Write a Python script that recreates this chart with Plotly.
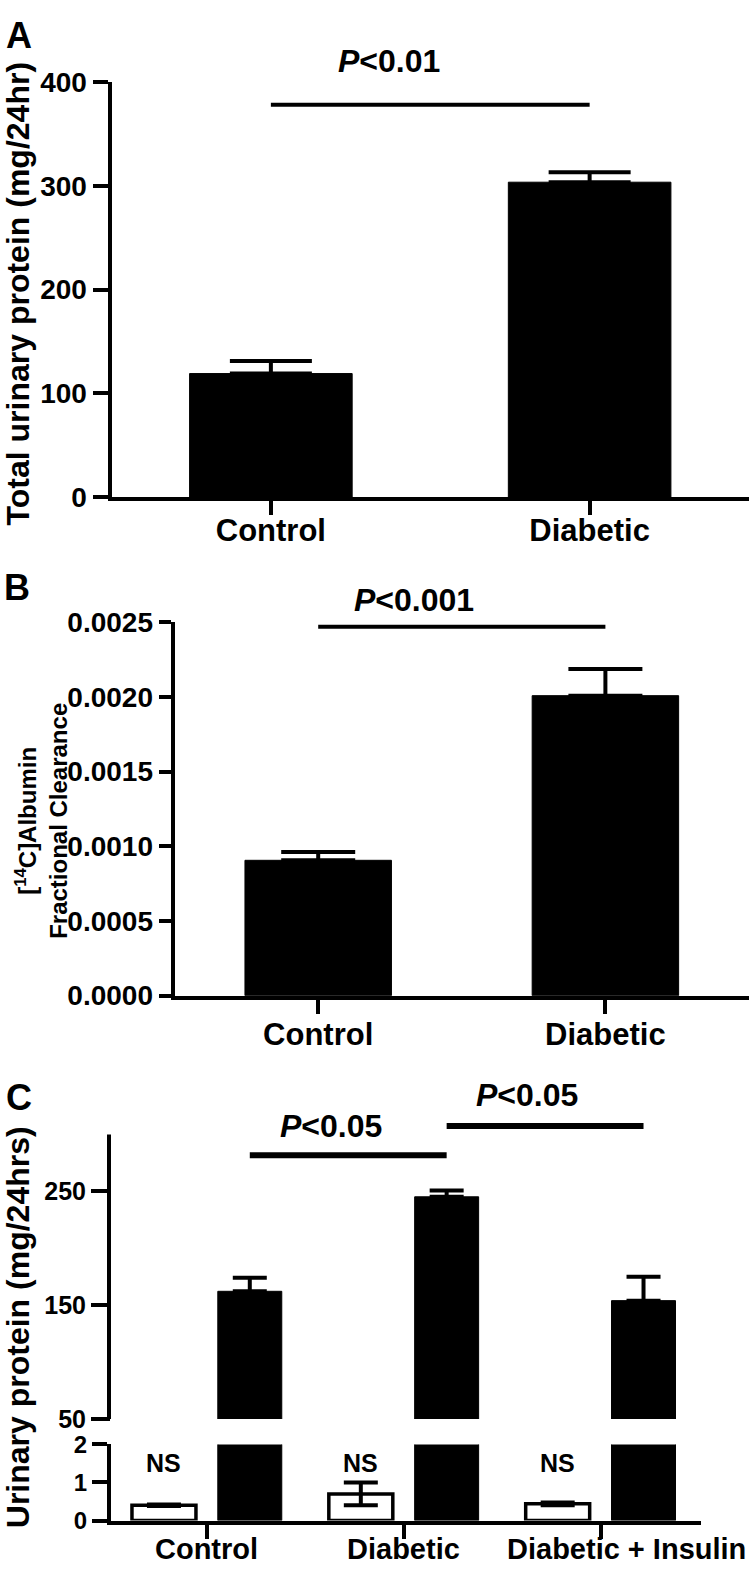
import plotly.graph_objects as go

# ---------------- data ----------------
# Panel A
a_categories = ["Control", "Diabetic"]
a_means = [119.0, 303.4]
a_sem = [12.0, 9.5]
a_sig_y = 378
a_sig_text = "<i>P</i>&lt;0.01"

# Panel B
b_categories = ["Control", "Diabetic"]
b_means = [0.000906, 0.002008]
b_sem = [0.000056, 0.000179]
b_sig_y = 0.00247
b_sig_text = "<i>P</i>&lt;0.001"

# Panel C
c_categories = ["Control", "Diabetic", "Diabetic + Insulin"]
c_open_means = [0.40, 0.70, 0.44]
c_open_sem = [0.02, 0.30, 0.035]
c_filled_means = [162.2, 245.3, 154.0]
c_filled_sem = [12.0, 5.5, 21.0]
c_sig_y = [281.8, 307.5]
c_sig_text = ["<i>P</i>&lt;0.05", "<i>P</i>&lt;0.05"]
c_ns_text = ["NS", "NS", "NS"]

# ---------------- layout helpers ----------------
W, H = 750, 1580
FONT = "Liberation Sans, Arial, Helvetica, sans-serif"


def fx(p):
    return p / W


def fy(p):
    return 1 - p / H


def f(size):
    return dict(family=FONT, size=size, color="black", weight="bold")


BAR_W_C = 0.325
OFF_C = 0.218

fig = go.Figure()

# Panel A
fig.add_trace(go.Bar(
    x=a_categories, y=a_means, width=0.51,
    marker=dict(color="black", line=dict(color="black", width=1)),
    error_y=dict(type="data", array=a_sem, arrayminus=[0] * len(a_sem), symmetric=False,
                 color="black", thickness=4, width=41),
    xaxis="x", yaxis="y", showlegend=False))

# Panel B
fig.add_trace(go.Bar(
    x=b_categories, y=b_means, width=0.51,
    marker=dict(color="black", line=dict(color="black", width=1)),
    error_y=dict(type="data", array=b_sem, arrayminus=[0] * len(b_sem), symmetric=False,
                 color="black", thickness=4, width=37),
    xaxis="x2", yaxis="y2", showlegend=False))

# Panel C lower segment
fig.add_trace(go.Bar(
    x=c_categories, y=c_open_means, width=BAR_W_C, offset=-OFF_C - BAR_W_C / 2,
    marker=dict(color="white", line=dict(color="black", width=3.5)),
    error_y=dict(type="data", array=c_open_sem, symmetric=True,
                 color="black", thickness=4, width=17),
    xaxis="x3", yaxis="y3", showlegend=False))
fig.add_trace(go.Bar(
    x=c_categories, y=c_filled_means, width=BAR_W_C, offset=OFF_C - BAR_W_C / 2,
    marker=dict(color="black", line=dict(color="black", width=1)),
    xaxis="x3", yaxis="y3", showlegend=False))
# Panel C upper segment
fig.add_trace(go.Bar(
    x=c_categories, y=c_filled_means, width=BAR_W_C, offset=OFF_C - BAR_W_C / 2,
    marker=dict(color="black", line=dict(color="black", width=1)),
    error_y=dict(type="data", array=c_filled_sem, arrayminus=[0] * len(c_filled_sem),
                 symmetric=False, color="black", thickness=4, width=17),
    xaxis="x4", yaxis="y4", showlegend=False))

axis_common = dict(showline=True, linewidth=4, linecolor="black", ticks="outside",
                   tickwidth=4, tickcolor="black", showgrid=False, zeroline=False,
                   tickfont=f(28))

fig.update_layout(
    width=W, height=H, margin=dict(l=0, r=0, t=0, b=0),
    paper_bgcolor="white", plot_bgcolor="white",
    font=dict(family=FONT, color="black", weight="bold"),
    barmode="group",
    xaxis=dict(axis_common, domain=[fx(111.5), fx(749)], anchor="y", type="category",
               categoryarray=a_categories, range=[-0.5, 1.5], ticklen=14, tickfont=f(31),
               ticklabelstandoff=-11),
    yaxis=dict(axis_common, domain=[fy(491.7), fy(68.3)], anchor="x", range=[0, 400],
               tickvals=[0, 100, 200, 300, 400], ticklen=15),
    xaxis2=dict(axis_common, domain=[fx(174.6), fx(749)], anchor="y2", type="category",
                categoryarray=b_categories, range=[-0.5, 1.5], ticklen=14, tickfont=f(31),
                ticklabelstandoff=-6),
    yaxis2=dict(axis_common, domain=[fy(1000.3), fy(619.3)], anchor="x2", range=[0, 0.0025],
                tickvals=[0, 0.0005, 0.001, 0.0015, 0.002, 0.0025], tickformat=".4f", ticklen=12),
    xaxis3=dict(axis_common, domain=[fx(111), fx(701)], anchor="y3", type="category",
                categoryarray=c_categories, range=[-0.487, 2.51], ticklen=14,
                showticklabels=False),
    yaxis3=dict(axis_common, domain=[fy(1535.7), fy(1458)], anchor="x3", range=[0, 2],
                tickvals=[0, 1, 2], ticklen=15, tickfont=f(24)),
    xaxis4=dict(domain=[fx(111), fx(701)], anchor="y4", type="category",
                categoryarray=c_categories, range=[-0.487, 2.51], visible=False),
    yaxis4=dict(axis_common, showline=False, domain=[fy(1432), fy(1118.8)], anchor="x4",
                range=[50, 320], tickvals=[50, 150, 250], ticklen=19, tickfont=f(25)),
)

shapes = []
# Upper C y-axis line (only from 50 to 300)
shapes.append(dict(type="line", xref="x4 domain", yref="y4", xsizemode="pixel", xanchor=0,
                   x0=-2, x1=-2, y0=50, y1=300, line=dict(color="black", width=4)))
# significance bars
shapes.append(dict(type="line", xref="x", yref="y", x0=0, x1=1, y0=a_sig_y, y1=a_sig_y,
                   line=dict(color="black", width=4)))
shapes.append(dict(type="line", xref="x2", yref="y2", x0=0, x1=1, y0=b_sig_y, y1=b_sig_y,
                   line=dict(color="black", width=4)))
for i, yv in enumerate(c_sig_y):
    shapes.append(dict(type="line", xref="x4", yref="y4", x0=i + OFF_C, x1=i + 1 + OFF_C,
                       y0=yv, y1=yv, line=dict(color="black", width=6)))
fig.update_layout(shapes=shapes)

ann = []
for letter, (px, py) in zip(["A", "B", "C"], [(19, 21), (17, 584), (19, 1104)]):
    ann.append(dict(text=letter, xref="paper", yref="paper", x=fx(px), y=fy(py),
                    xanchor="center", yanchor="middle", showarrow=False, font=f(36)))
for txt, (px, py) in zip([a_sig_text, b_sig_text, c_sig_text[0], c_sig_text[1]],
                         [(389, 47), (414, 597), (331, 1133), (527, 1102)]):
    ann.append(dict(text=txt, xref="paper", yref="paper", x=fx(px), y=fy(py),
                    xanchor="center", yanchor="middle", showarrow=False, font=f(32)))
# y-axis titles
ann.append(dict(text="Total urinary protein (mg/24hr)", xref="paper", yref="paper",
                x=fx(18), y=fy(285), textangle=-90, xanchor="center", yanchor="middle",
                showarrow=False, font=f(32)))
ann.append(dict(text="[<sup>14</sup>C]Albumin", xref="paper", yref="paper",
                x=fx(26), y=fy(822), textangle=-90, xanchor="center", yanchor="middle",
                showarrow=False, font=f(24)))
ann.append(dict(text="Fractional Clearance", xref="paper", yref="paper",
                x=fx(59), y=fy(822), textangle=-90, xanchor="center", yanchor="middle",
                showarrow=False, font=f(24)))
ann.append(dict(text="Urinary protein (mg/24hrs)", xref="paper", yref="paper",
                x=fx(17.5), y=fy(1339), textangle=-90, xanchor="center", yanchor="middle",
                showarrow=False, font=f(32)))
# NS labels above open bars
for i, t in enumerate(c_ns_text):
    ann.append(dict(text=t, xref="x3", yref="paper", x=i - OFF_C, y=fy(1477),
                    xanchor="center", yanchor="middle", showarrow=False, font=f(25)))
# category labels of panel C (last one sits right of its tick, as in the original)
for i, (cat, shift) in enumerate(zip(c_categories, [0, 0, 26])):
    ann.append(dict(text=cat, xref="x3", yref="paper", x=i, xshift=shift, y=fy(1565),
                    xanchor="center", yanchor="middle", showarrow=False, font=f(29)))
fig.update_layout(annotations=ann)

fig.write_html("out.html", config={"displayModeBar": False},
               post_script="document.body.style.margin='0';document.body.style.overflow='hidden';")
